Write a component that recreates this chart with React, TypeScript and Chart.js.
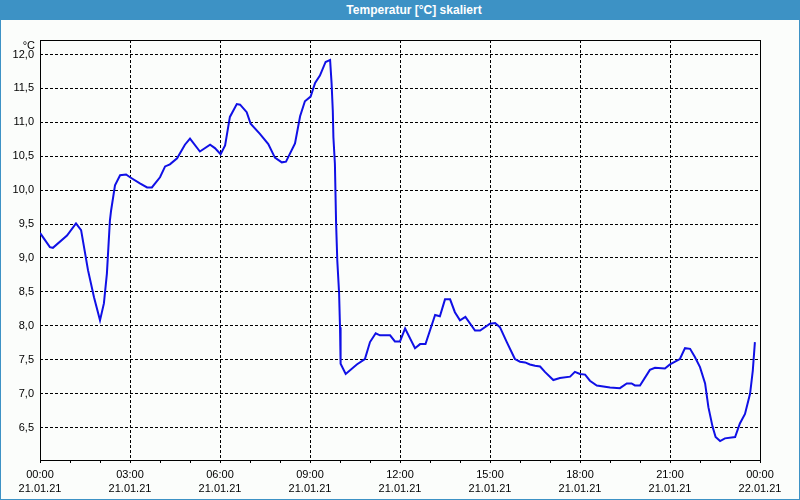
import React, { useEffect, useRef } from "react";
import { Chart, registerables } from "chart.js";

Chart.register(...registerables);

const titleText = "Temperatur [°C] skaliert";
const unitLabel = "°C";

// time of day in hours (21.01.21)
const timesH = [
  0, 0.33, 0.43, 0.9, 1.2, 1.37, 1.6, 1.8, 2.0, 2.13,
  2.23, 2.33, 2.37, 2.5, 2.67, 2.87, 3.0, 3.33, 3.57, 3.73,
  4.0, 4.17, 4.33, 4.57, 4.83, 5.0, 5.33, 5.67, 5.83, 6.02,
  6.17, 6.33, 6.56, 6.67, 6.89, 7.02, 7.33, 7.61, 7.83, 8.06,
  8.2, 8.5, 8.67, 8.83, 9.02, 9.17, 9.33, 9.52, 9.67, 9.72,
  9.76, 9.78, 9.83, 9.87, 9.91, 9.97, 10.0, 10.02, 10.19, 10.56,
  10.83, 11.0, 11.19, 11.33, 11.67, 11.83, 12.0, 12.17, 12.5, 12.67,
  12.85, 13.17, 13.33, 13.5, 13.67, 13.83, 14.0, 14.18, 14.5, 14.67,
  15.0, 15.17, 15.33, 15.56, 15.83, 16.0, 16.17, 16.33, 16.5, 16.67,
  16.83, 17.11, 17.33, 17.67, 17.83, 18.0, 18.17, 18.33, 18.56, 19.0,
  19.33, 19.56, 19.72, 19.83, 20.0, 20.33, 20.5, 20.83, 21.0, 21.33,
  21.5, 21.67, 21.83, 22.0, 22.17, 22.28, 22.42, 22.52, 22.67, 22.83,
  23.17, 23.33, 23.5, 23.67, 23.76, 23.83,
];

const temps = [
  9.37, 9.16, 9.15, 9.33, 9.51, 9.41, 8.82, 8.42, 8.08, 8.33,
  8.77, 9.55, 9.7, 10.07, 10.22, 10.23, 10.19, 10.1, 10.04, 10.04,
  10.19, 10.35, 10.38, 10.47, 10.67, 10.76, 10.57, 10.67, 10.62, 10.53,
  10.66, 11.08, 11.27, 11.26, 11.15, 10.98, 10.83, 10.68, 10.48, 10.41,
  10.42, 10.69, 11.09, 11.31, 11.38, 11.58, 11.69, 11.89, 11.92, 11.57,
  11.17, 10.78, 10.39, 9.51, 8.96, 8.48, 7.98, 7.44, 7.29, 7.43,
  7.51, 7.76, 7.89, 7.86, 7.86, 7.77, 7.77, 7.96, 7.67, 7.73,
  7.73, 8.16, 8.14, 8.39, 8.39, 8.2, 8.08, 8.13, 7.93, 7.93,
  8.03, 8.04, 7.98, 7.76, 7.51, 7.47, 7.46, 7.43, 7.41, 7.4,
  7.32, 7.2, 7.23, 7.25, 7.32, 7.29, 7.28, 7.19, 7.12, 7.09,
  7.08, 7.15, 7.15, 7.12, 7.12, 7.35, 7.38, 7.37, 7.43, 7.51,
  7.67, 7.66, 7.54, 7.39, 7.15, 6.8, 6.51, 6.36, 6.3, 6.34,
  6.36, 6.56, 6.7, 7.0, 7.34, 7.76,
];

const hourLabels = ["00:00", "03:00", "06:00", "09:00", "12:00", "15:00", "18:00", "21:00", "00:00"];
const dateLabels = ["21.01.21", "21.01.21", "21.01.21", "21.01.21", "21.01.21", "21.01.21", "21.01.21", "21.01.21", "22.01.21"];

const yMin = 6.021;
const yMax = 12.214;
const yStep = 0.5;

const FONT = "'Liberation Sans', Arial, sans-serif";

export default function App() {
  const canvasRef = useRef<HTMLCanvasElement | null>(null);

  useEffect(() => {
    const canvas = canvasRef.current;
    if (!canvas) return;

    const framePlugin = {
      id: "frame",
      beforeDatasetsDraw(chart: any) {
        const { ctx, chartArea } = chart;
        ctx.save();
        ctx.strokeStyle = "#000";
        ctx.lineWidth = 1;
        ctx.setLineDash([]);
        ctx.strokeRect(
          chartArea.left + 0.5,
          chartArea.top + 0.5,
          chartArea.right - chartArea.left,
          chartArea.bottom - chartArea.top
        );
        ctx.restore();
      },
      afterDraw(chart: any) {
        const { ctx, chartArea } = chart;
        ctx.save();
        ctx.fillStyle = "#000";
        ctx.font = `11px ${FONT}`;
        ctx.textAlign = "right";
        ctx.textBaseline = "middle";
        ctx.fillText(unitLabel, chartArea.left - 5, chartArea.top + 6);
        ctx.restore();
      },
    };

    const chart = new Chart(canvas, {
      type: "line",
      data: {
        datasets: [
          {
            data: timesH.map((t, i) => ({ x: t, y: temps[i] })),
            borderColor: "#1010e6",
            borderWidth: 2,
            pointRadius: 0,
            tension: 0,
            fill: false,
          },
        ],
      },
      options: {
        animation: false,
        responsive: false,
        devicePixelRatio: 1,
        layout: { padding: { top: 40, right: 40, left: 0, bottom: 0 } },
        plugins: {
          legend: { display: false },
          tooltip: { enabled: false },
          title: { display: false },
        },
        scales: {
          x: {
            type: "linear",
            min: 0,
            max: 24,
            afterFit(scale: any) {
              scale.height = 40;
            },
            border: { display: false, dash: [3, 2] },
            grid: {
              color: (c: any) => {
                const v = c.tick ? c.tick.value : 0;
                return v % 3 === 0 && v !== 0 && v !== 24 ? "#000" : "rgba(0,0,0,0)";
              },
              tickColor: "#000",
              tickLength: 3,
              drawTicks: true,
              lineWidth: 1,
            },
            ticks: {
              stepSize: 1,
              autoSkip: false,
              maxRotation: 0,
              minRotation: 0,
              padding: 5,
              color: "#000",
              font: { family: FONT, size: 11, lineHeight: 1.27 },
              callback: (v: any) => {
                const n = Number(v);
                if (n % 3 !== 0) return "";
                const k = n / 3;
                return [hourLabels[k], dateLabels[k]];
              },
            },
          },
          y: {
            type: "linear",
            min: yMin,
            max: yMax,
            afterFit(scale: any) {
              scale.width = 40;
            },
            border: { display: false, dash: [3, 2] },
            grid: {
              color: "#000",
              drawTicks: false,
              lineWidth: 1,
            },
            ticks: {
              stepSize: yStep,
              includeBounds: false,
              padding: 6,
              color: "#000",
              font: { family: FONT, size: 11 },
              callback: (v: any) => Number(v).toFixed(1).replace(".", ","),
            },
          },
        },
      },
      plugins: [framePlugin],
    } as any);

    return () => {
      chart.destroy();
    };
  }, []);

  return (
    <div
      style={{
        position: "fixed",
        left: 0,
        top: 0,
        width: 800,
        height: 500,
        background: "#fbfdfb",
        overflow: "hidden",
      }}
    >
      <canvas
        ref={canvasRef}
        width={800}
        height={500}
        style={{ position: "absolute", left: 0, top: 0, width: 800, height: 500 }}
      />
      <div
        style={{
          position: "absolute",
          left: 0,
          top: 0,
          width: 800,
          height: 20,
          background: "#3d92c5",
          color: "#fff",
          fontFamily: FONT,
          fontWeight: "bold",
          fontSize: 12,
          lineHeight: "20px",
          boxSizing: "border-box",
          paddingLeft: 28,
          textAlign: "center",
        }}
      >
        {titleText}
      </div>
      <div
        style={{
          position: "absolute",
          left: 0,
          top: 0,
          width: 800,
          height: 500,
          boxSizing: "border-box",
          border: "1px solid #3d92c5",
          pointerEvents: "none",
        }}
      />
    </div>
  );
}
